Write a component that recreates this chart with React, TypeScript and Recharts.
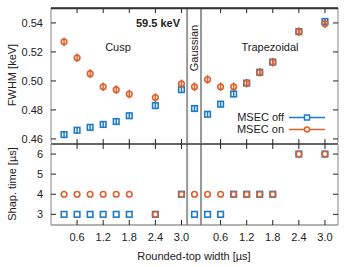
import { ScatterChart, Scatter, XAxis, YAxis, ReferenceLine, ErrorBar } from 'recharts'

const blue = '#1f7bc8'
const orange = '#e0602c'
const font = '"Liberation Sans", Arial, sans-serif'

// rounded-top widths [µs] per filter; Gaussian has one point between the two groups
const cuspWidths = [0.3, 0.6, 0.9, 1.2, 1.5, 1.8, 2.4, 3.0]
const trapWidths = [0.3, 0.6, 0.9, 1.2, 1.5, 1.8, 2.4, 3.0]
const gaussPos = 3.3
const trapOffset = 3.3
const dividers = [3.13, 3.45]

// order: cusp (8), gaussian (1), trapezoidal (8)
const fwhmOff = [0.463, 0.466, 0.468, 0.470, 0.472, 0.476, 0.483, 0.494, 0.481, 0.477, 0.484, 0.491, 0.4985, 0.506, 0.513, 0.534, 0.541]
const fwhmOn = [0.527, 0.516, 0.505, 0.496, 0.494, 0.491, 0.4885, 0.498, 0.496, 0.501, 0.496, 0.496, 0.4985, 0.506, 0.513, 0.534, 0.5395]
const errOff = [0.0022, 0.0022, 0.0022, 0.0022, 0.0022, 0.0022, 0.0022, 0.0022, 0.0022, 0.0022, 0.0022, 0.0022, 0.0022, 0.0022, 0.0022, 0.0022, 0.0022]
const errOn = [0.003, 0.003, 0.003, 0.003, 0.003, 0.003, 0.003, 0.003, 0.003, 0.003, 0.003, 0.003, 0.003, 0.003, 0.003, 0.003, 0.003]
const shapOff = [3, 3, 3, 3, 3, 3, 3, 4, 3, 3, 3, 4, 4, 4, 4, 6, 6]
const shapOn = [4, 4, 4, 4, 4, 4, 3, 4, 4, 4, 4, 4, 4, 4, 4, 6, 6]

const widthTicks = ['0.6', '1.2', '1.8', '2.4', '3.0']
const fwhmTicks = [0.46, 0.48, 0.50, 0.52, 0.54]
const shapTicks = [3, 4, 5, 6]

const xPos = [...cuspWidths, gaussPos, ...trapWidths.map(w => w + trapOffset)]
const xTicks = [...widthTicks.map(Number), ...widthTicks.map(t => Number(t) + trapOffset)]
const xDomain = [0, 6.6]
const fwhmDomain = [0.4572, 0.5503]
const shapDomain = [2.47, 6.5]
const topTickLen = 0.0035 // keV, about 5px

const fmtX = (v: number) => (v > gaussPos ? v - trapOffset : v).toFixed(1)

const offTop = xPos.map((x, i) => ({ x, y: fwhmOff[i], err: errOff[i] }))
const onTop = xPos.map((x, i) => ({ x, y: fwhmOn[i], err: errOn[i] }))
const offBot = xPos.map((x, i) => ({ x, y: shapOff[i] }))
const onBot = xPos.map((x, i) => ({ x, y: shapOn[i] }))

const Square = (p: any) => (
  <rect x={p.cx - 2.8} y={p.cy - 2.8} width={5.6} height={5.6} fill="none" stroke={blue} strokeWidth={1.6} />
)
const Dot = (p: any) => <circle cx={p.cx} cy={p.cy} r={2.8} fill="none" stroke={orange} strokeWidth={1.6} />
const Nothing = () => <g />

// divider between the panels: ticks point into both panels
const TickBoth = (p: any) => <line x1={p.x} x2={p.x} y1={p.y - 5} y2={p.y + 5} stroke="#222" />
const TickLeft = (p: any) => <line x1={p.x} x2={p.x - 5} y1={p.y} y2={p.y} stroke="#222" />

const leftTick = (digits: number) => (p: any) => (
  <g>
    <line x1={p.x + 8} x2={p.x + 13} y1={p.y} y2={p.y} stroke="#222" />
    <text x={p.x} y={p.y} dy={4} textAnchor="end" fontSize={11} fontFamily={font} fill="#222">
      {Number(p.payload.value).toFixed(digits)}
    </text>
  </g>
)

const BottomTick = (p: any) => (
  <g>
    <line x1={p.x} x2={p.x} y1={p.y - 12} y2={p.y - 17} stroke="#222" />
    <text x={p.x} y={p.y} dy={4} textAnchor="middle" fontSize={11} fontFamily={font} fill="#222">
      {fmtX(p.payload.value)}
    </text>
  </g>
)

const frame = { stroke: '#999', strokeWidth: 1.2 }

export default function App() {
  return (
    <div style={{ position: 'absolute', left: 0, top: 0, width: 351, height: 267, background: '#fff', fontFamily: font }}>
      <div style={{ position: 'absolute', left: 0, top: 0 }}>
        <ScatterChart width={351} height={150} margin={{ top: 8, right: 12, bottom: 7, left: 0 }}>
          <XAxis type="number" dataKey="x" domain={xDomain} ticks={xTicks} hide />
          <YAxis type="number" dataKey="y" domain={fwhmDomain} ticks={fwhmTicks} interval={0} width={51} tickSize={0}
            tickMargin={8} axisLine={frame} tickLine={false} tick={leftTick(2)} />
          <YAxis yAxisId="r" orientation="right" type="number" dataKey="y" domain={fwhmDomain} ticks={fwhmTicks} interval={0} width={1}
            tickSize={0} tickMargin={0} axisLine={frame} tickLine={false} tick={TickLeft} />
          <ReferenceLine y={fwhmDomain[1]} ifOverflow="visible" stroke="#333" strokeWidth={1.3} />
          {xTicks.map(t => (
            <ReferenceLine key={'t' + t} ifOverflow="visible" stroke="#222"
              segment={[{ x: t, y: fwhmDomain[1] }, { x: t, y: fwhmDomain[1] - topTickLen }]} />
          ))}
          {dividers.map(d => <ReferenceLine key={d} x={d} stroke="#999" strokeWidth={2} />)}
          <Scatter yAxisId="r" data={offTop} shape={Nothing} legendType="none" isAnimationActive={false} />
          <Scatter name="MSEC off" data={offTop} shape={Square} isAnimationActive={false}>
            <ErrorBar dataKey="err" direction="y" width={0} stroke={blue} strokeWidth={1.5} />
          </Scatter>
          <Scatter name="MSEC on" data={onTop} shape={Dot} isAnimationActive={false}>
            <ErrorBar dataKey="err" direction="y" width={0} stroke={orange} strokeWidth={1.5} />
          </Scatter>
        </ScatterChart>
      </div>
      <div style={{ position: 'absolute', left: 0, top: 137 }}>
        <ScatterChart width={351} height={130} margin={{ top: 6, right: 12, bottom: 0, left: 0 }}>
          <XAxis type="number" dataKey="x" domain={xDomain} ticks={xTicks} interval={0} height={42} tickSize={0} tickMargin={12}
            axisLine={{ stroke: '#666', strokeWidth: 1.2 }} tickLine={false} tick={BottomTick} />
          <XAxis xAxisId="top" orientation="top" type="number" dataKey="x" domain={xDomain} ticks={xTicks} interval={0} height={1}
            tickSize={0} tickMargin={0} axisLine={{ stroke: '#333', strokeWidth: 1.3 }} tickLine={false} tick={TickBoth} />
          <YAxis type="number" dataKey="y" domain={shapDomain} ticks={shapTicks} interval={0} width={51} tickSize={0}
            tickMargin={8} axisLine={frame} tickLine={false} tick={leftTick(0)} />
          <YAxis yAxisId="r" orientation="right" type="number" dataKey="y" domain={shapDomain} ticks={shapTicks} interval={0} width={1}
            tickSize={0} tickMargin={0} axisLine={frame} tickLine={false} tick={TickLeft} />
          {dividers.map(d => <ReferenceLine key={d} x={d} stroke="#999" strokeWidth={2} />)}
          <Scatter xAxisId="top" yAxisId="r" data={offBot} shape={Nothing} legendType="none" isAnimationActive={false} />
          <Scatter name="MSEC off" data={offBot} shape={Square} isAnimationActive={false} />
          <Scatter name="MSEC on" data={onBot} shape={Dot} isAnimationActive={false} />
        </ScatterChart>
      </div>
      <svg width={351} height={267} style={{ position: 'absolute', left: 0, top: 0, pointerEvents: 'none' }}>
        <line x1={51} x2={338} y1={8.5} y2={8.5} stroke="#333" strokeWidth={1.3} />
        <g fontFamily={font} fontSize={11} fill="#222">
          <text x={158} y={27} textAnchor="middle" fontWeight="bold">59.5 keV</text>
          <text x={118} y={51} textAnchor="middle">Cusp</text>
          <text x={270} y={51} textAnchor="middle">Trapezoidal</text>
          <text transform="translate(198,48) rotate(-90)" textAnchor="middle">Gaussian</text>
          <text transform="translate(16,75) rotate(-90)" textAnchor="middle">FWHM [keV]</text>
          <text transform="translate(16,184) rotate(-90)" textAnchor="middle">Shap. time [µs]</text>
          <text x={194} y={260} textAnchor="middle">Rounded-top width [µs]</text>
          <text x={284} y={121} textAnchor="end">MSEC off</text>
          <text x={284} y={133} textAnchor="end">MSEC on</text>
        </g>
        <line x1={289} x2={325} y1={117.5} y2={117.5} stroke={blue} strokeWidth={1.5} />
        <rect x={304.5} y={115} width={5} height={5} fill="#fff" stroke={blue} strokeWidth={1.5} />
        <line x1={289} x2={325} y1={129.5} y2={129.5} stroke={orange} strokeWidth={1.5} />
        <circle cx={307} cy={129.5} r={2.5} fill="#fff" stroke={orange} strokeWidth={1.5} />
      </svg>
    </div>
  )
}
